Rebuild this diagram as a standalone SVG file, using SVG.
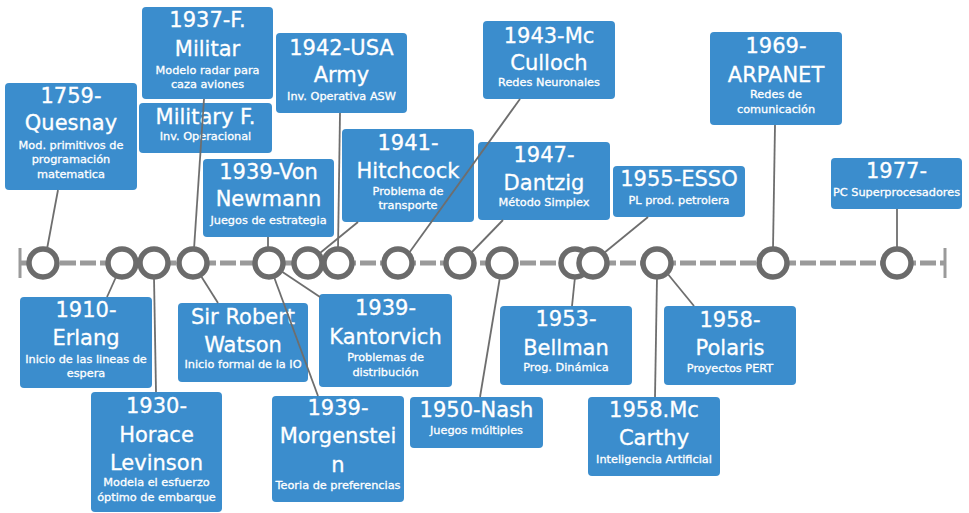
<svg xmlns="http://www.w3.org/2000/svg" width="969" height="513" viewBox="0 0 969 513">
<style>
  .box { fill: #3b8dcd; }
  .t { font-family: "DejaVu Sans", "Liberation Sans", sans-serif; font-size: 21px; fill: #ffffff; stroke: #ffffff; stroke-width: 0.3; text-anchor: middle; }
  .s { font-family: "DejaVu Sans", "Liberation Sans", sans-serif; font-size: 11.3px; fill: #ffffff; stroke: #ffffff; stroke-width: 0.3; text-anchor: middle; }
  .axis { stroke: #9a9a9a; stroke-width: 5; stroke-dasharray: 16 4; fill: none; }
  .bar { stroke: #9a9a9a; stroke-width: 3; }
  .dot { fill: #ffffff; stroke: #6b6b6b; stroke-width: 5.5; }
  .c { stroke: #6e6e6e; stroke-width: 1.8; fill: none; }
</style>
<rect width="969" height="513" fill="#ffffff"/>

<g id="timeline">
  <line class="axis" x1="20" y1="263" x2="945" y2="263"/>
  <line class="bar" x1="20" y1="248" x2="20" y2="278"/>
  <line class="bar" x1="945" y1="248" x2="945" y2="278"/>
  <circle class="dot" cx="43" cy="263" r="14"/>
  <circle class="dot" cx="122" cy="263" r="14"/>
  <circle class="dot" cx="154" cy="263" r="14"/>
  <circle class="dot" cx="193" cy="263" r="14"/>
  <circle class="dot" cx="269" cy="263" r="14"/>
  <circle class="dot" cx="308" cy="263" r="14"/>
  <circle class="dot" cx="338" cy="263" r="14"/>
  <circle class="dot" cx="398" cy="263" r="14"/>
  <circle class="dot" cx="460" cy="263" r="14"/>
  <circle class="dot" cx="502" cy="263" r="14"/>
  <circle class="dot" cx="575" cy="263" r="14"/>
  <circle class="dot" cx="593" cy="263" r="14"/>
  <circle class="dot" cx="657" cy="263" r="14"/>
  <circle class="dot" cx="773" cy="263" r="14"/>
  <circle class="dot" cx="897" cy="263" r="14"/>
</g>

<g id="quesnay">
  <rect class="box" x="5" y="83" width="132" height="107" rx="4"/>
  <text class="t" x="71" y="103">1759-</text>
  <text class="t" x="71" y="130">Quesnay</text>
  <text class="s" x="71" y="149">Mod. primitivos de</text>
  <text class="s" x="71" y="163">programación</text>
  <text class="s" x="71" y="178">matematica</text>
</g>
<g id="militar">
  <rect class="box" x="142" y="7" width="131" height="92" rx="4"/>
  <text class="t" x="207.5" y="27">1937-F.</text>
  <text class="t" x="207.5" y="56">Militar</text>
  <text class="s" x="207.5" y="74">Modelo radar para</text>
  <text class="s" x="207.5" y="88">caza aviones</text>
</g>
<g id="military-f">
  <rect class="box" x="139" y="103" width="133" height="50" rx="4"/>
  <text class="t" x="205.5" y="124">Military F.</text>
  <text class="s" x="205.5" y="140">Inv. Operacional</text>
</g>
<g id="army">
  <rect class="box" x="276" y="33" width="131" height="80" rx="4"/>
  <text class="t" x="341.5" y="55">1942-USA</text>
  <text class="t" x="341.5" y="82">Army</text>
  <text class="s" x="341.5" y="100">Inv. Operativa ASW</text>
</g>
<g id="culloch">
  <rect class="box" x="483" y="21" width="132" height="78" rx="4"/>
  <text class="t" x="549" y="43">1943-Mc</text>
  <text class="t" x="549" y="70">Culloch</text>
  <text class="s" x="549" y="86">Redes Neuronales</text>
</g>
<g id="hitchcock">
  <rect class="box" x="342" y="129" width="132" height="93" rx="4"/>
  <text class="t" x="408" y="150">1941-</text>
  <text class="t" x="408" y="178">Hitchcock</text>
  <text class="s" x="408" y="195">Problema de</text>
  <text class="s" x="408" y="209">transporte</text>
</g>
<g id="newmann">
  <rect class="box" x="203" y="159" width="131" height="78" rx="4"/>
  <text class="t" x="268.5" y="179">1939-Von</text>
  <text class="t" x="268.5" y="206">Newmann</text>
  <text class="s" x="268.5" y="224">Juegos de estrategia</text>
</g>
<g id="dantzig">
  <rect class="box" x="478" y="142" width="132" height="78" rx="4"/>
  <text class="t" x="544" y="162">1947-</text>
  <text class="t" x="544" y="190">Dantzig</text>
  <text class="s" x="544" y="206">Método Simplex</text>
</g>
<g id="esso">
  <rect class="box" x="613" y="166" width="132" height="51" rx="4"/>
  <text class="t" x="679" y="186">1955-ESSO</text>
  <text class="s" x="679" y="204">PL prod. petrolera</text>
</g>
<g id="arpanet">
  <rect class="box" x="710" y="32" width="132" height="93" rx="4"/>
  <text class="t" x="776" y="53">1969-</text>
  <text class="t" x="776" y="82">ARPANET</text>
  <text class="s" x="776" y="98">Redes de</text>
  <text class="s" x="776" y="113">comunicación</text>
</g>
<g id="pc1977">
  <rect class="box" x="831" y="158" width="131" height="51" rx="4"/>
  <text class="t" x="896.5" y="178">1977-</text>
  <text class="s" x="896.5" y="196">PC Superprocesadores</text>
</g>
<g id="erlang">
  <rect class="box" x="20" y="297" width="132" height="91" rx="4"/>
  <text class="t" x="86" y="317">1910-</text>
  <text class="t" x="86" y="345">Erlang</text>
  <text class="s" x="86" y="363">Inicio de las lineas de</text>
  <text class="s" x="86" y="377">espera</text>
</g>
<g id="levinson">
  <rect class="box" x="91" y="392" width="131" height="120" rx="4"/>
  <text class="t" x="156.5" y="413">1930-</text>
  <text class="t" x="156.5" y="442">Horace</text>
  <text class="t" x="156.5" y="470">Levinson</text>
  <text class="s" x="156.5" y="486">Modela el esfuerzo</text>
  <text class="s" x="156.5" y="501">óptimo de embarque</text>
</g>
<g id="watson">
  <rect class="box" x="178" y="303" width="130" height="79" rx="4"/>
  <text class="t" x="243" y="324">Sir Robert</text>
  <text class="t" x="243" y="352">Watson</text>
  <text class="s" x="243" y="368">Inicio formal de la IO</text>
</g>
<g id="kantorvich">
  <rect class="box" x="319" y="294" width="133" height="93" rx="4"/>
  <text class="t" x="385.5" y="315">1939-</text>
  <text class="t" x="385.5" y="344">Kantorvich</text>
  <text class="s" x="385.5" y="361">Problemas de</text>
  <text class="s" x="385.5" y="376">distribución</text>
</g>
<g id="morgenstein">
  <rect class="box" x="272" y="396" width="132" height="106" rx="4"/>
  <text class="t" x="338" y="415">1939-</text>
  <text class="t" x="338" y="443">Morgenstei</text>
  <text class="t" x="338" y="472">n</text>
  <text class="s" x="338" y="489">Teoria de preferencias</text>
</g>
<g id="nash">
  <rect class="box" x="410" y="397" width="133" height="51" rx="4"/>
  <text class="t" x="476.5" y="417">1950-Nash</text>
  <text class="s" x="476.5" y="434">Juegos múltiples</text>
</g>
<g id="bellman">
  <rect class="box" x="500" y="306" width="132" height="79" rx="4"/>
  <text class="t" x="566" y="326">1953-</text>
  <text class="t" x="566" y="355">Bellman</text>
  <text class="s" x="566" y="371">Prog. Dinámica</text>
</g>
<g id="polaris">
  <rect class="box" x="664" y="306" width="132" height="79" rx="4"/>
  <text class="t" x="730" y="327">1958-</text>
  <text class="t" x="730" y="355">Polaris</text>
  <text class="s" x="730" y="372">Proyectos PERT</text>
</g>
<g id="mccarthy">
  <rect class="box" x="588" y="397" width="132" height="79" rx="4"/>
  <text class="t" x="654" y="417">1958.Mc</text>
  <text class="t" x="654" y="445">Carthy</text>
  <text class="s" x="654" y="463">Inteligencia Artificial</text>
</g>

<g id="connectors">
  <line class="c" x1="47" y1="249" x2="58" y2="190"/>
  <line class="c" x1="204" y1="99" x2="194" y2="249"/>
  <line class="c" x1="340" y1="113" x2="338" y2="249"/>
  <line class="c" x1="358" y1="222" x2="320" y2="253"/>
  <line class="c" x1="520" y1="99" x2="409" y2="253"/>
  <line class="c" x1="268" y1="237" x2="268" y2="249"/>
  <line class="c" x1="503" y1="220" x2="471" y2="253"/>
  <line class="c" x1="648" y1="217" x2="604" y2="253"/>
  <line class="c" x1="775" y1="125" x2="773" y2="249"/>
  <line class="c" x1="897" y1="209" x2="897" y2="249"/>
  <line class="c" x1="116" y1="277" x2="107" y2="297"/>
  <line class="c" x1="154" y1="277" x2="156" y2="392"/>
  <line class="c" x1="201" y1="276" x2="218" y2="303"/>
  <line class="c" x1="281" y1="271" x2="320" y2="297"/>
  <line class="c" x1="274" y1="277" x2="318" y2="396"/>
  <line class="c" x1="500" y1="277" x2="480" y2="397"/>
  <line class="c" x1="575" y1="277" x2="572" y2="306"/>
  <line class="c" x1="657" y1="277" x2="655" y2="397"/>
  <line class="c" x1="667" y1="273" x2="694" y2="306"/>
</g>
</svg>
